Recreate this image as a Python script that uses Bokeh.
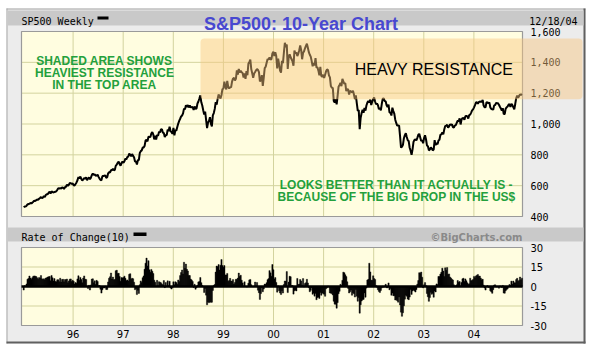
import numpy as np
import pandas as pd
from bokeh.plotting import figure
from bokeh.models import BoxAnnotation, Label, Range1d
from bokeh.core.properties import value
from bokeh.embed import file_html
from bokeh.resources import INLINE

# ---------------- data (weekly closes) ----------------
closes_1994_tail = [473, 462, 463, 461, 453, 453, 446, 458, 459, 459]
closes_1995 = [460, 465, 464, 470, 478, 481, 482, 488, 485, 490, 496, 503, 501,
               506, 510, 508, 515, 520, 526, 519, 523, 533, 527, 539, 544, 545,
               554, 560, 549, 563, 558, 556, 559, 560, 564, 573, 583, 581, 584,
               582, 588, 587, 579, 590, 593, 606, 600, 606, 617, 616, 611, 615]
closes_1996 = [602, 601, 611, 621, 635, 656, 647, 659, 644, 633, 641, 650, 645,
               655, 636, 646, 653, 641, 652, 669, 679, 669, 673, 665, 666, 671,
               657, 646, 638, 635, 662, 662, 665, 667, 651, 655, 680, 687, 686,
               701, 700, 710, 700, 703, 730, 737, 748, 757, 739, 729, 748, 757]
closes_1997 = [748, 759, 776, 770, 786, 789, 808, 801, 790, 805, 793, 784, 757,
               757, 737, 766, 765, 812, 824, 829, 847, 848, 858, 893, 898, 887,
               917, 916, 915, 938, 947, 933, 900, 923, 899, 929, 923, 950, 945,
               965, 966, 944, 941, 915, 927, 928, 963, 955, 983, 954, 947, 936]
closes_1998 = [975, 927, 961, 957, 980, 1003, 1020, 1034, 1049, 1055, 1069, 1100, 1095,
               1122, 1110, 1123, 1107, 1121, 1109, 1108, 1110, 1091, 1114, 1098, 1100, 1133,
               1146, 1165, 1186, 1141, 1120, 1089, 1062, 1081, 1027, 973, 1009, 1020, 1044,
               1002, 984, 1056, 1071, 1098, 1141, 1126, 1163, 1192, 1176, 1166, 1188, 1226]
closes_1999 = [1229, 1275, 1243, 1225, 1280, 1240, 1230, 1239, 1238, 1275, 1294, 1299, 1282,
               1293, 1348, 1320, 1357, 1335, 1345, 1337, 1330, 1302, 1328, 1293, 1343, 1316,
               1391, 1403, 1418, 1356, 1329, 1300, 1327, 1337, 1348, 1357, 1351, 1336, 1277,
               1282, 1317, 1247, 1301, 1362, 1371, 1397, 1422, 1417, 1433, 1417, 1421, 1458, 1469]
closes_2000 = [1441, 1465, 1441, 1360, 1424, 1387, 1346, 1333, 1409, 1395, 1464, 1527, 1499,
               1516, 1357, 1434, 1452, 1433, 1420, 1406, 1378, 1477, 1457, 1464, 1441, 1455,
               1479, 1510, 1481, 1420, 1462, 1471, 1491, 1507, 1521, 1495, 1466, 1449, 1437,
               1408, 1374, 1396, 1380, 1427, 1366, 1368, 1346, 1316, 1370, 1313, 1306, 1320]
closes_2001 = [1298, 1319, 1342, 1354, 1350, 1315, 1302, 1246, 1235, 1234, 1150, 1140, 1160,
               1128, 1183, 1242, 1254, 1267, 1245, 1292, 1277, 1261, 1265, 1214, 1226, 1224,
               1191, 1215, 1211, 1205, 1215, 1191, 1162, 1185, 1134, 1085, 1090, 966, 1041,
               1071, 1092, 1073, 1104, 1087, 1120, 1139, 1150, 1139, 1158, 1123, 1144, 1161]
closes_2002 = [1172, 1146, 1128, 1133, 1122, 1096, 1104, 1089, 1131, 1164, 1166, 1149, 1147,
               1122, 1111, 1126, 1076, 1073, 1055, 1106, 1084, 1067, 1028, 1007, 990, 990,
               989, 921, 847, 852, 865, 908, 928, 940, 916, 894, 889, 846, 827,
               800, 835, 884, 897, 900, 894, 910, 930, 936, 912, 889, 895, 875]
closes_2003 = [909, 927, 901, 861, 856, 829, 834, 849, 841, 829, 834, 895, 863,
               878, 868, 893, 898, 930, 933, 946, 933, 964, 987, 988, 995, 976,
               985, 998, 994, 998, 980, 977, 990, 993, 1008, 1021, 1018, 1036, 997,
               1029, 1038, 1039, 1028, 1051, 1053, 1050, 1035, 1058, 1061, 1074, 1088, 1095]
closes_2004 = [1108, 1122, 1139, 1141, 1131, 1142, 1146, 1144, 1145, 1156, 1120, 1109, 1108,
               1141, 1139, 1134, 1140, 1107, 1098, 1095, 1093, 1121, 1123, 1137, 1135, 1134,
               1125, 1112, 1101, 1086, 1102, 1064, 1065, 1099, 1108, 1114, 1124, 1129, 1110,
               1131, 1122, 1109, 1095, 1130, 1167, 1184, 1170, 1182, 1191, 1189, 1194]

year_ticks = [1996, 1997, 1998, 1999, 2000, 2001, 2002, 2003, 2004]
year_labels = ["96", "97", "98", "99", "00", "01", "02", "03", "04"]
price_ticks = [400, 600, 800, 1000, 1200, 1400, 1600]
price_tick_labels = ["400", "600", "800", "1,000", "1,200", "1,400", "1,600"]
roc_ticks = [-30, -15, 0, 15, 30]
roc_tick_labels = ["-30", "-15", "0", "15", "30"]
roc_period = 10
resistance_low, resistance_high = 1160, 1555

# ---------------- derived series ----------------
closes = np.array(closes_1994_tail + closes_1995 + closes_1996 + closes_1997 + closes_1998 +
                  closes_1999 + closes_2000 + closes_2001 + closes_2002 + closes_2003 +
                  closes_2004, dtype=float)
dates = pd.date_range("1994-10-28", periods=len(closes), freq="W-FRI")
t = np.asarray(dates.year + (dates.dayofyear - 1) / np.where(dates.is_leap_year, 366.0, 365.0))
roc = (closes[roc_period:] / closes[:-roc_period] - 1.0) * 100.0
t_plot = t[roc_period:]
price_plot = closes[roc_period:]

# ---------------- scales: page pixels <-> data ----------------
X0, X1 = 1994.97, 2004.97          # time span of both panels
P_MIN, P_MAX = 400, 1600           # price panel range
R_MIN, R_MAX = -30, 30             # ROC panel range
FL, FR = 21, 522                   # panel frames, page x
M_TOP, M_BOT = 31, 216             # price frame, page y
R_TOP, R_BOT = 247, 325            # ROC frame, page y

def yr_at(x):
    return X0 + (x - FL) * (X1 - X0) / (FR - FL)

def price_at(y):
    return P_MAX - (y - M_TOP) * (P_MAX - P_MIN) / (M_BOT - M_TOP)

def roc_at(y):
    return R_MAX - (y - R_TOP) * (R_MAX - R_MIN) / (R_BOT - R_TOP)

W, H = 590, 351
fig = figure(width=W, height=H, x_range=Range1d(0, W), y_range=Range1d(H, 0),
             output_backend="svg", toolbar_location=None, x_axis_location=None,
             y_axis_location=None, min_border=0, background_fill_color="white",
             border_fill_color="white", outline_line_color=None)
fig.grid.visible = False
fig.extra_x_ranges = {"yr": Range1d(yr_at(0), yr_at(W))}
fig.extra_y_ranges = {"price": Range1d(price_at(H), price_at(0)),
                      "roc": Range1d(roc_at(H), roc_at(0))}

PANEL = "#ececec"
BAND = "#c9c9c9"
PLOTBG = "#fffde0"
GRID = "#d3d39e"
GREEN = "#23a03c"
LIGHT = "#a8a8a8"
DARK = "#606060"
FRAME = "#9a9a9a"
MONO = "DejaVu Sans Mono"
SANS = "Liberation Sans"

def prect(x0, x1, y0, y1, c):
    fig.quad(left=[x0], right=[x1], top=[y0], bottom=[y1], fill_color=c, line_color=None)

def txt(x, y, s, font, size, color="black", style="normal", align="left", baseline="alphabetic", **kw):
    fig.text(x=x if isinstance(x, list) else [x], y=y if isinstance(y, list) else [y],
             text=s if isinstance(s, list) else [s], text_font=value(font),
             text_font_size=value(size), text_color=color, text_font_style=style,
             text_align=align, text_baseline=baseline, **kw)

# chart panel, border and header bands
prect(6, 585, 8, 343, PANEL)
prect(6, 585, 8, 9, LIGHT)
prect(6, 7, 8, 343, LIGHT)
prect(583, 585, 8, 343, DARK)
prect(6, 585, 341, 343, DARK)
prect(7, 583, 10, 25, BAND)
prect(7, 583, 227, 241, BAND)

# plot areas
fig.quad(left=[X0], right=[X1], bottom=[P_MIN], top=[P_MAX], x_range_name="yr",
         y_range_name="price", fill_color=PLOTBG, line_color=None)
fig.quad(left=[X0], right=[X1], bottom=[R_MIN], top=[R_MAX], x_range_name="yr",
         y_range_name="roc", fill_color=PLOTBG, line_color=None)

# grids
n = len(year_ticks)
fig.segment(x0=year_ticks, x1=year_ticks, y0=[P_MIN] * n, y1=[P_MAX] * n, x_range_name="yr",
            y_range_name="price", line_color=GRID, line_width=1)
inner_p = price_ticks[1:-1]
fig.segment(x0=[X0] * len(inner_p), x1=[X1] * len(inner_p), y0=inner_p, y1=inner_p,
            x_range_name="yr", y_range_name="price", line_color=GRID, line_width=1)
fig.segment(x0=year_ticks, x1=year_ticks, y0=[R_MIN] * n, y1=[R_MAX] * n, x_range_name="yr",
            y_range_name="roc", line_color=GRID, line_width=1)
inner_r = [v for v in roc_ticks[1:-1] if v != 0]
fig.segment(x0=[X0] * len(inner_r), x1=[X1] * len(inner_r), y0=inner_r, y1=inner_r,
            x_range_name="yr", y_range_name="roc", line_color=GRID, line_width=1)

# frame outlines
fig.quad(left=[X0], right=[X1], bottom=[P_MIN], top=[P_MAX], x_range_name="yr",
         y_range_name="price", fill_color=None, line_color=FRAME, line_width=1.2)
fig.quad(left=[X0], right=[X1], bottom=[R_MIN], top=[R_MAX], x_range_name="yr",
         y_range_name="roc", fill_color=None, line_color=FRAME, line_width=1.2)

# price series
fig.line(t_plot, price_plot, x_range_name="yr", y_range_name="price",
         line_color="black", line_width=2.0)

# rate of change series
fig.vbar(x=t_plot, top=roc, bottom=0, width=9.0 / 365.25, x_range_name="yr",
         y_range_name="roc", fill_color="black", line_color="black", line_width=0.4)
fig.segment(x0=[X0], x1=[X1], y0=[0], y1=[0], x_range_name="yr", y_range_name="roc",
            line_color="black", line_width=2.5)

# axis labels
txt([530] * len(price_ticks), price_ticks, price_tick_labels, MONO, "10px",
    baseline="middle", y_range_name="price")
txt([530] * len(roc_ticks), roc_ticks, roc_tick_labels, "DejaVu Sans", "10px",
    baseline="middle", y_range_name="roc")
txt(year_ticks, [333] * n, year_labels, "DejaVu Sans", "10px", align="center",
    baseline="middle", x_range_name="yr")

# header texts
prect(97, 108, 16, 19, "black")
txt(21, 21, "SP500 Weekly", MONO, "10px")
txt(300.5, 23, "S&P500: 10-Year Chart", SANS, "18px", "#4848d0", "bold", "center")
txt(577, 21, "12/18/04", MONO, "10px", align="right")
prect(133, 146, 232, 235.5, "black")
txt(21, 237, "Rate of Change(10)", MONO, "10px")
txt(522, 237, "\u00a9BigCharts.com", "DejaVu Sans", "10px", "#8a8a8a", "bold", "right")

# chart notes
txt(104, 60.7, "SHADED AREA SHOWS", SANS, "12px", GREEN, "bold", "center")
txt(104, 72.7, "HEAVIEST RESISTANCE", SANS, "12px", GREEN, "bold", "center")
txt(104, 84.7, "IN THE TOP AREA", SANS, "12px", GREEN, "bold", "center")
txt(396, 184.3, "LOOKS BETTER THAN IT ACTUALLY IS -", SANS, "12px", GREEN, "bold", "center")
txt(396, 196, "BECAUSE OF THE BIG DROP IN THE US$", SANS, "12px", GREEN, "bold", "center")

# resistance zone (spans the plot and the price scale)
fig.add_layout(BoxAnnotation(left=200, right=582, bottom=resistance_low, top=resistance_high,
                             y_range_name="price", fill_color="#f9c57e", fill_alpha=0.45,
                             line_color=None, border_radius=4))
# its caption sits on top of the shading
fig.add_layout(Label(x=433.5, y=69, text="HEAVY RESISTANCE", text_font=SANS,
                     text_font_size="16px", text_color="black", text_align="center",
                     text_baseline="alphabetic"))

open("out.html", "w").write(file_html(fig, INLINE))
